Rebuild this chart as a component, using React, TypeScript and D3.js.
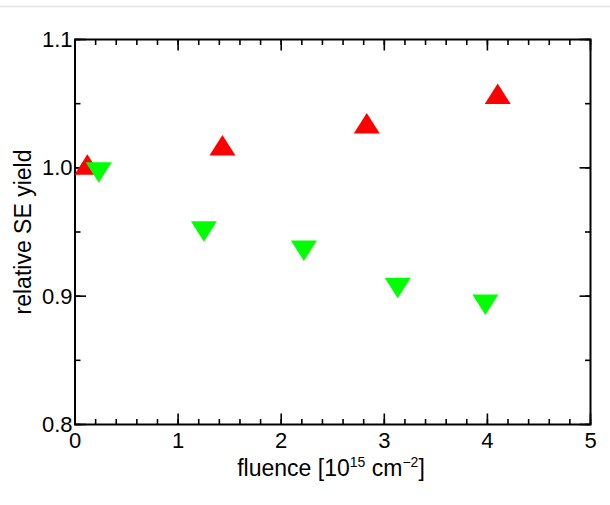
import React from "react";
import * as d3 from "d3";

// Fluence values [10^15 cm^-2] and relative secondary-electron yields
const upX = [0.12, 1.43, 2.83, 4.1];
const upY = [1.0, 1.015, 1.032, 1.055];
const downX = [0.23, 1.25, 2.22, 3.13, 3.98];
const downY = [0.999, 0.953, 0.938, 0.909, 0.896];

const xTicks = [0, 1, 2, 3, 4, 5];
const xMinor = d3.range(0, 5.0001, 0.2);
const yTicks = [0.8, 0.9, 1.0, 1.1];
const yMinor = d3.range(0.8, 1.1001, 0.05);

const W = 610;
const H = 505;
const M = { left: 75, right: 590.5, top: 39.5, bottom: 424.5 };
const FONT = "'Liberation Sans', Arial, sans-serif";

const TRI_HALF_W = 13;
const TRI_H = 20.5;

// Triangle path centred on its centroid; dir = -1 points up, 1 points down
function triPath(cx: number, cy: number, dir: number) {
  const apex = cy + dir * (2 * TRI_H) / 3;
  const base = cy - dir * TRI_H / 3;
  return `M${cx},${apex}L${cx - TRI_HALF_W},${base}L${cx + TRI_HALF_W},${base}Z`;
}

export default function App() {
  const x = d3.scaleLinear().domain([0, 5]).range([M.left, M.right]);
  const y = d3.scaleLinear().domain([0.8, 1.1]).range([M.bottom, M.top]);
  const major = 11;
  const minor = 5.5;

  return (
    <svg
      width={W}
      height={H}
      style={{ position: "absolute", left: 0, top: 0, background: "#fff" }}
      fontFamily={FONT}
    >
      <rect x={0} y={0} width={W} height={H} fill="#fff" />
      <line x1={0} x2={W} y1={6.5} y2={6.5} stroke="#e3e3e3" strokeWidth={1.5} />

      {/* minor ticks */}
      <g stroke="#000" strokeWidth={1.6}>
        {xMinor.map((v, i) => (
          <g key={`xm${i}`}>
            <line x1={x(v)} x2={x(v)} y1={M.bottom} y2={M.bottom - minor} />
            <line x1={x(v)} x2={x(v)} y1={M.top} y2={M.top + minor} />
          </g>
        ))}
        {yMinor.map((v, i) => (
          <g key={`ym${i}`}>
            <line x1={M.left} x2={M.left + minor} y1={y(v)} y2={y(v)} />
            <line x1={M.right} x2={M.right - minor} y1={y(v)} y2={y(v)} />
          </g>
        ))}
        {xTicks.map((v) => (
          <g key={`xM${v}`}>
            <line x1={x(v)} x2={x(v)} y1={M.bottom} y2={M.bottom - major} />
            <line x1={x(v)} x2={x(v)} y1={M.top} y2={M.top + major} />
          </g>
        ))}
        {yTicks.map((v) => (
          <g key={`yM${v}`}>
            <line x1={M.left} x2={M.left + major} y1={y(v)} y2={y(v)} />
            <line x1={M.right} x2={M.right - major} y1={y(v)} y2={y(v)} />
          </g>
        ))}
      </g>

      {/* frame */}
      <rect
        x={M.left}
        y={M.top}
        width={M.right - M.left}
        height={M.bottom - M.top}
        fill="none"
        stroke="#000"
        strokeWidth={2}
      />

      {/* markers */}
      {upX.map((v, i) => (
        <path key={`u${i}`} d={triPath(x(v), y(upY[i]), -1)} fill="#ff0000" />
      ))}
      {downX.map((v, i) => (
        <path key={`d${i}`} d={triPath(x(v), y(downY[i]), 1)} fill="#00ff00" />
      ))}

      {/* tick labels */}
      <g fontSize={22} fill="#000">
        {xTicks.map((v) => (
          <text key={`xl${v}`} x={x(v)} y={448} textAnchor="middle">
            {d3.format("d")(v)}
          </text>
        ))}
        {yTicks.map((v) => (
          <text key={`yl${v}`} x={72.5} y={y(v)} dy="0.34em" textAnchor="end">
            {d3.format(".1f")(v)}
          </text>
        ))}
      </g>

      {/* axis titles */}
      <text x={331} y={476} textAnchor="middle" fontSize={23} fill="#000">
        fluence [10
        <tspan dy={-9} fontSize={14}>15</tspan>
        <tspan dy={9}> cm</tspan>
        <tspan dy={-9} fontSize={14}>−2</tspan>
        <tspan dy={9}>]</tspan>
      </text>
      <text
        transform={`translate(30.5,${(M.top + M.bottom) / 2}) rotate(-90)`}
        textAnchor="middle"
        fontSize={23}
        fill="#000"
      >
        relative SE yield
      </text>
    </svg>
  );
}
